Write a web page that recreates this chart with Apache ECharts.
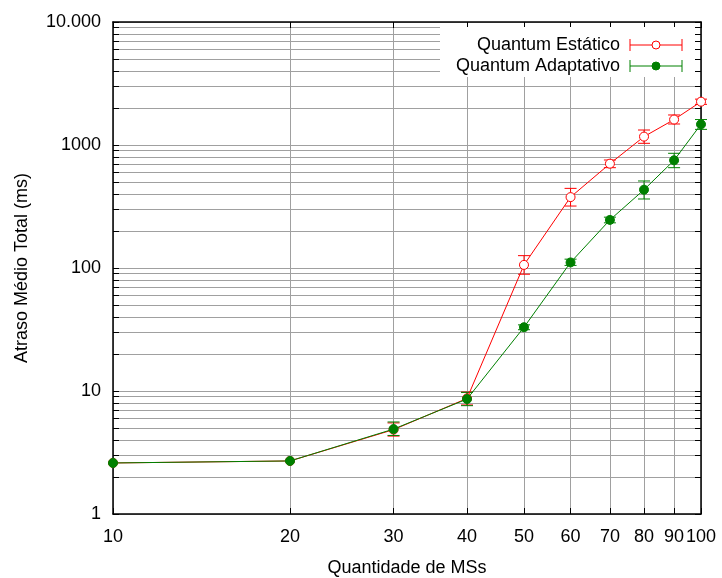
<!DOCTYPE html>
<html><head><meta charset="utf-8">
<script src="https://cdn.jsdelivr.net/npm/echarts@6/dist/echarts.min.js"></script>
<style>html,body{margin:0;padding:0;background:#fff}#c{width:722px;height:578px}</style>
</head><body><div id="c"></div>
<script>
var xs = [10, 20, 30, 40, 50, 60, 70, 80, 90, 100];
var staticMean = [2.6, 2.7, 4.85, 8.7, 106, 377, 705, 1170, 1610, 2250];
var staticLow = [2.6, 2.7, 4.3, 7.7, 89, 319, 654, 1032, 1482, 2140];
var staticHigh = [2.6, 2.7, 5.5, 9.8, 126, 444, 755, 1324, 1754, 2360];
var adaptMean = [2.6, 2.7, 4.9, 8.6, 33, 111, 246, 433, 751, 1473];
var adaptLow = [2.6, 2.7, 4.35, 7.6, 31.5, 105, 233, 364, 654, 1340];
var adaptHigh = [2.6, 2.7, 5.6, 9.75, 34.5, 118, 259, 510, 856, 1610];
var yTicks = [1,2,3,4,5,6,7,8,9,10,20,30,40,50,60,70,80,90,100,200,300,400,500,600,700,800,900,1000,2000,3000,4000,5000,6000,7000,8000,9000,10000];
var yLabels = [1, 10, 100, 1000, 10000];
var seriesNames = ['Quantum Estático', 'Quantum Adaptativo'];
var xName = 'Quantidade de MSs';
var yName = 'Atraso Médio Total (ms)';

var FONT = 'Liberation Sans';
var FS = 18;
var RED = '#ff0000', GREEN = '#008000', GRID = '#a0a0a0';

function pairs(y) { return xs.map(function (x, i) { return [x, y[i]]; }); }
function errData(lo, hi) { return xs.map(function (x, i) { return [x, lo[i], hi[i]]; }); }
function errSeries(lo, hi, color) {
  return {
    type: 'custom', data: errData(lo, hi), z: 3, silent: true,
    renderItem: function (params, api) {
      var x = api.value(0), l = api.value(1), h = api.value(2);
      if (l === h) return null;
      var p1 = api.coord([x, l]), p2 = api.coord([x, h]);
      var w = 6;
      var st = { stroke: color, lineWidth: 1, fill: null };
      return { type: 'group', children: [
        { type: 'line', shape: { x1: p1[0], y1: p1[1], x2: p2[0], y2: p2[1] }, style: st },
        { type: 'line', shape: { x1: p1[0] - w, y1: p1[1], x2: p1[0] + w, y2: p1[1] }, style: st },
        { type: 'line', shape: { x1: p2[0] - w, y1: p2[1], x2: p2[0] + w, y2: p2[1] }, style: st }
      ]};
    }
  };
}

var chart = echarts.init(document.getElementById('c'));
var gridBox = { left: 113, right: 21, top: 22, bottom: 64, containLabel: false, outerBoundsMode: 'none' };
var txt = { fontFamily: FONT, fontSize: FS, color: '#000' };

function legendItem(y, label, color, filled) {
  return [
    { type: 'text', z: 10, x: 620, y: y, style: { text: label, font: FS + 'px ' + FONT, fill: '#000', textAlign: 'right', textVerticalAlign: 'middle' } },
    { type: 'line', z: 10, shape: { x1: 630, y1: y, x2: 682, y2: y }, style: { stroke: color, lineWidth: 1 } },
    { type: 'line', z: 10, shape: { x1: 630, y1: y - 6, x2: 630, y2: y + 6 }, style: { stroke: color, lineWidth: 1 } },
    { type: 'line', z: 10, shape: { x1: 682, y1: y - 6, x2: 682, y2: y + 6 }, style: { stroke: color, lineWidth: 1 } },
    { type: 'circle', z: 10, shape: { cx: 656, cy: y, r: 4 }, style: { stroke: color, lineWidth: 1, fill: filled ? color : '#fff' } }
  ];
}

chart.setOption({
  animation: false,
  backgroundColor: '#fff',
  grid: gridBox,
  xAxis: [{
    type: 'log', min: 10, max: 100, logBase: 10,
    name: xName, nameLocation: 'middle', nameGap: 45, nameTextStyle: txt,
    axisLine: { lineStyle: { color: '#000', width: 1.5 } },
    axisTick: { inside: true, length: 6, customValues: xs, lineStyle: { color: '#000' } },
    axisLabel: { customValues: xs, margin: 14, fontFamily: FONT, fontSize: FS, color: '#000', hideOverlap: false, formatter: function (v) { return String(Math.round(v)); } },
    splitLine: { show: true, lineStyle: { color: GRID, width: 1 } }
  }, {
    type: 'log', min: 10, max: 100, position: 'top',
    axisLine: { show: true, lineStyle: { color: '#000', width: 1.5 } },
    axisTick: { inside: true, length: 6, customValues: xs, lineStyle: { color: '#000' } },
    axisLabel: { show: false }, splitLine: { show: false }
  }],
  yAxis: [{
    type: 'log', min: 1, max: 10000, logBase: 10,
    name: yName, nameLocation: 'middle', nameGap: 82, nameTextStyle: txt,
    axisLine: { show: true, lineStyle: { color: '#000', width: 1.5 } },
    axisTick: { show: true, inside: true, length: 6, customValues: yTicks, lineStyle: { color: '#000' } },
    axisLabel: { customValues: yLabels, margin: 12, fontFamily: FONT, fontSize: FS, color: '#000',
      formatter: function (v) { v = Math.round(v); return v === 10000 ? '10.000' : String(v); } },
    splitLine: { show: true, lineStyle: { color: GRID, width: 1 } }
  }, {
    type: 'log', min: 1, max: 10000, position: 'right',
    axisLine: { show: true, lineStyle: { color: '#000', width: 1.5 } },
    axisTick: { show: true, inside: true, length: 6, customValues: yTicks, lineStyle: { color: '#000' } },
    axisLabel: { show: false }, splitLine: { show: false }
  }],
  graphic: [
    { type: 'rect', z: 1, shape: { x: 440, y: 27, width: 255, height: 50 }, style: { fill: '#fff' } }
  ].concat(legendItem(45, seriesNames[0], RED, false)).concat(legendItem(66, seriesNames[1], GREEN, true)),
  series: [
    errSeries(staticLow, staticHigh, RED),
    {
      name: seriesNames[0], type: 'line', data: pairs(staticMean), z: 4,
      symbol: 'circle', symbolSize: 9, showAllSymbol: true,
      lineStyle: { color: RED, width: 1 },
      itemStyle: { color: '#fff', borderColor: RED, borderWidth: 1 }
    },
    errSeries(adaptLow, adaptHigh, GREEN),
    {
      name: seriesNames[1], type: 'line', data: pairs(adaptMean), z: 5,
      symbol: 'circle', symbolSize: 9, showAllSymbol: true,
      lineStyle: { color: GREEN, width: 1 },
      itemStyle: { color: GREEN, borderColor: GREEN, borderWidth: 1 }
    }
  ]
});
</script></body></html>
